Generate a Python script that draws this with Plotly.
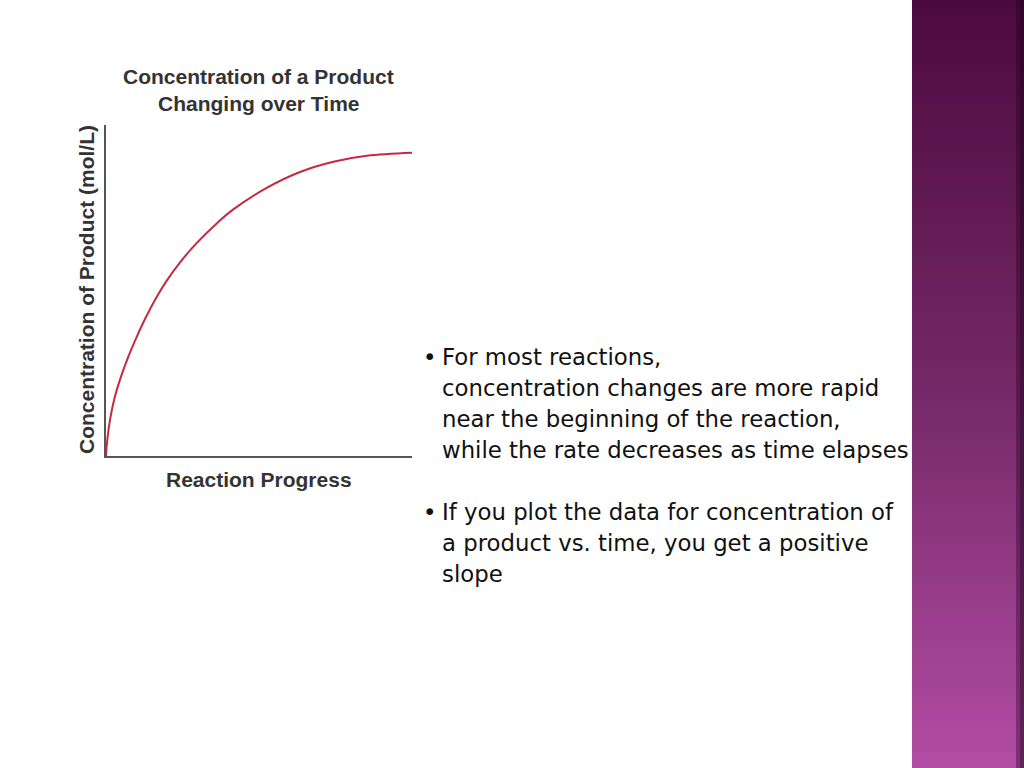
import plotly.graph_objects as go

# curve (x = reaction progress, y = concentration, both 0-100)
progress = [0, 0.2, 1.3, 2.9, 5.1, 7.3, 10.0, 12.7, 16.6, 19.8, 24.2, 29.6,
            36.7, 41.6, 52.5, 63.4, 74.3, 85.2, 100]
concentration = [0, 2.8, 10.9, 17.9, 24.5, 30.0, 35.9, 41.3, 48.1, 52.9, 58.5, 64.3,
                 70.7, 74.5, 81.0, 85.8, 88.9, 90.7, 91.6]

chart_title = ["Concentration of a Product", "Changing over Time"]
x_title = "Reaction Progress"
y_title = "Concentration of Product (mol/L)"

bullets = [
    ["For most reactions,",
     "concentration changes are more rapid",
     "near the beginning of the reaction,",
     "while the rate decreases as time elapses"],
    ["If you plot the data for concentration of",
     "a product vs. time, you get a positive",
     "slope"],
]

W, H = 1024, 768


def px(x):
    return x / W


def py(y):
    return 1 - y / H


fig = go.Figure()
fig.add_trace(go.Scatter(
    x=progress, y=concentration, mode="lines",
    line=dict(color="#c42a40", width=2, shape="spline", smoothing=1.0),
    hoverinfo="skip", showlegend=False,
))

fig.update_xaxes(
    domain=[px(106), px(412)], range=[0, 100],
    showgrid=False, zeroline=False, showticklabels=False, ticks="",
    showline=True, linecolor="#555555", linewidth=2,
)
fig.update_yaxes(
    domain=[py(456), py(125)], range=[0, 100],
    showgrid=False, zeroline=False, showticklabels=False, ticks="",
    showline=True, linecolor="#555555", linewidth=2,
)

label_font = dict(family="Liberation Sans", size=21, color="#333333")
annotations = []
for i, line in enumerate(chart_title):
    annotations.append(dict(
        x=px(258), y=py(77 + 27 * i), xref="paper", yref="paper",
        text="<b>%s</b>" % line, showarrow=False, font=label_font,
        xanchor="center", yanchor="middle",
    ))
annotations.append(dict(
    x=px(259), y=py(479), xref="paper", yref="paper",
    text="<b>%s</b>" % x_title, showarrow=False, font=label_font,
    xanchor="center", yanchor="middle",
))
annotations.append(dict(
    x=px(86), y=py(290), xref="paper", yref="paper",
    text="<b>%s</b>" % y_title, showarrow=False, font=label_font,
    textangle=-90, xanchor="center", yanchor="middle",
))

body_font = dict(family="DejaVu Sans", size=22.8, color="#111111")
line_y = 357
for para in bullets:
    annotations.append(dict(
        x=px(421), y=py(line_y), xref="paper", yref="paper",
        text="\u2022", showarrow=False, font=body_font,
        xanchor="left", yanchor="middle",
    ))
    for line in para:
        annotations.append(dict(
            x=px(440), y=py(line_y), xref="paper", yref="paper",
            text=line, showarrow=False, font=body_font,
            xanchor="left", yanchor="middle",
        ))
        line_y += 31
    line_y += 31

# purple side band, drawn as thin strips for the gradient
shapes = []
top = (0x4c, 0x0b, 0x40)
mid = (0x74, 0x28, 0x66)
bot = (0xb2, 0x4c, 0xa4)
n = 96
for k in range(n):
    t = k / (n - 1)
    if t < 0.5:
        a, b, f = top, mid, t / 0.5
    else:
        a, b, f = mid, bot, (t - 0.5) / 0.5
    c = tuple(round(a[j] + (b[j] - a[j]) * f) for j in range(3))
    y0 = H * k / n
    y1 = H * (k + 1) / n + 1
    shapes.append(dict(
        type="rect", xref="paper", yref="paper", layer="below",
        x0=px(912), x1=1, y0=py(y1), y1=py(y0),
        fillcolor="rgb(%d,%d,%d)" % c, line=dict(width=0),
    ))
shapes.append(dict(
    type="rect", xref="paper", yref="paper", layer="below",
    x0=px(1016), x1=1, y0=0, y1=1,
    fillcolor="rgba(30,0,25,0.35)", line=dict(width=0),
))
shapes.append(dict(
    type="rect", xref="paper", yref="paper", layer="below",
    x0=px(1020), x1=1, y0=0, y1=1,
    fillcolor="rgba(30,0,25,0.3)", line=dict(width=0),
))

fig.update_layout(
    width=W, height=H,
    margin=dict(l=0, r=0, t=0, b=0),
    paper_bgcolor="white", plot_bgcolor="rgba(0,0,0,0)",
    annotations=annotations, shapes=shapes,
    showlegend=False,
)

fig.write_html("out.html", config={"displayModeBar": False},
               post_script="document.body.style.margin='0';")
